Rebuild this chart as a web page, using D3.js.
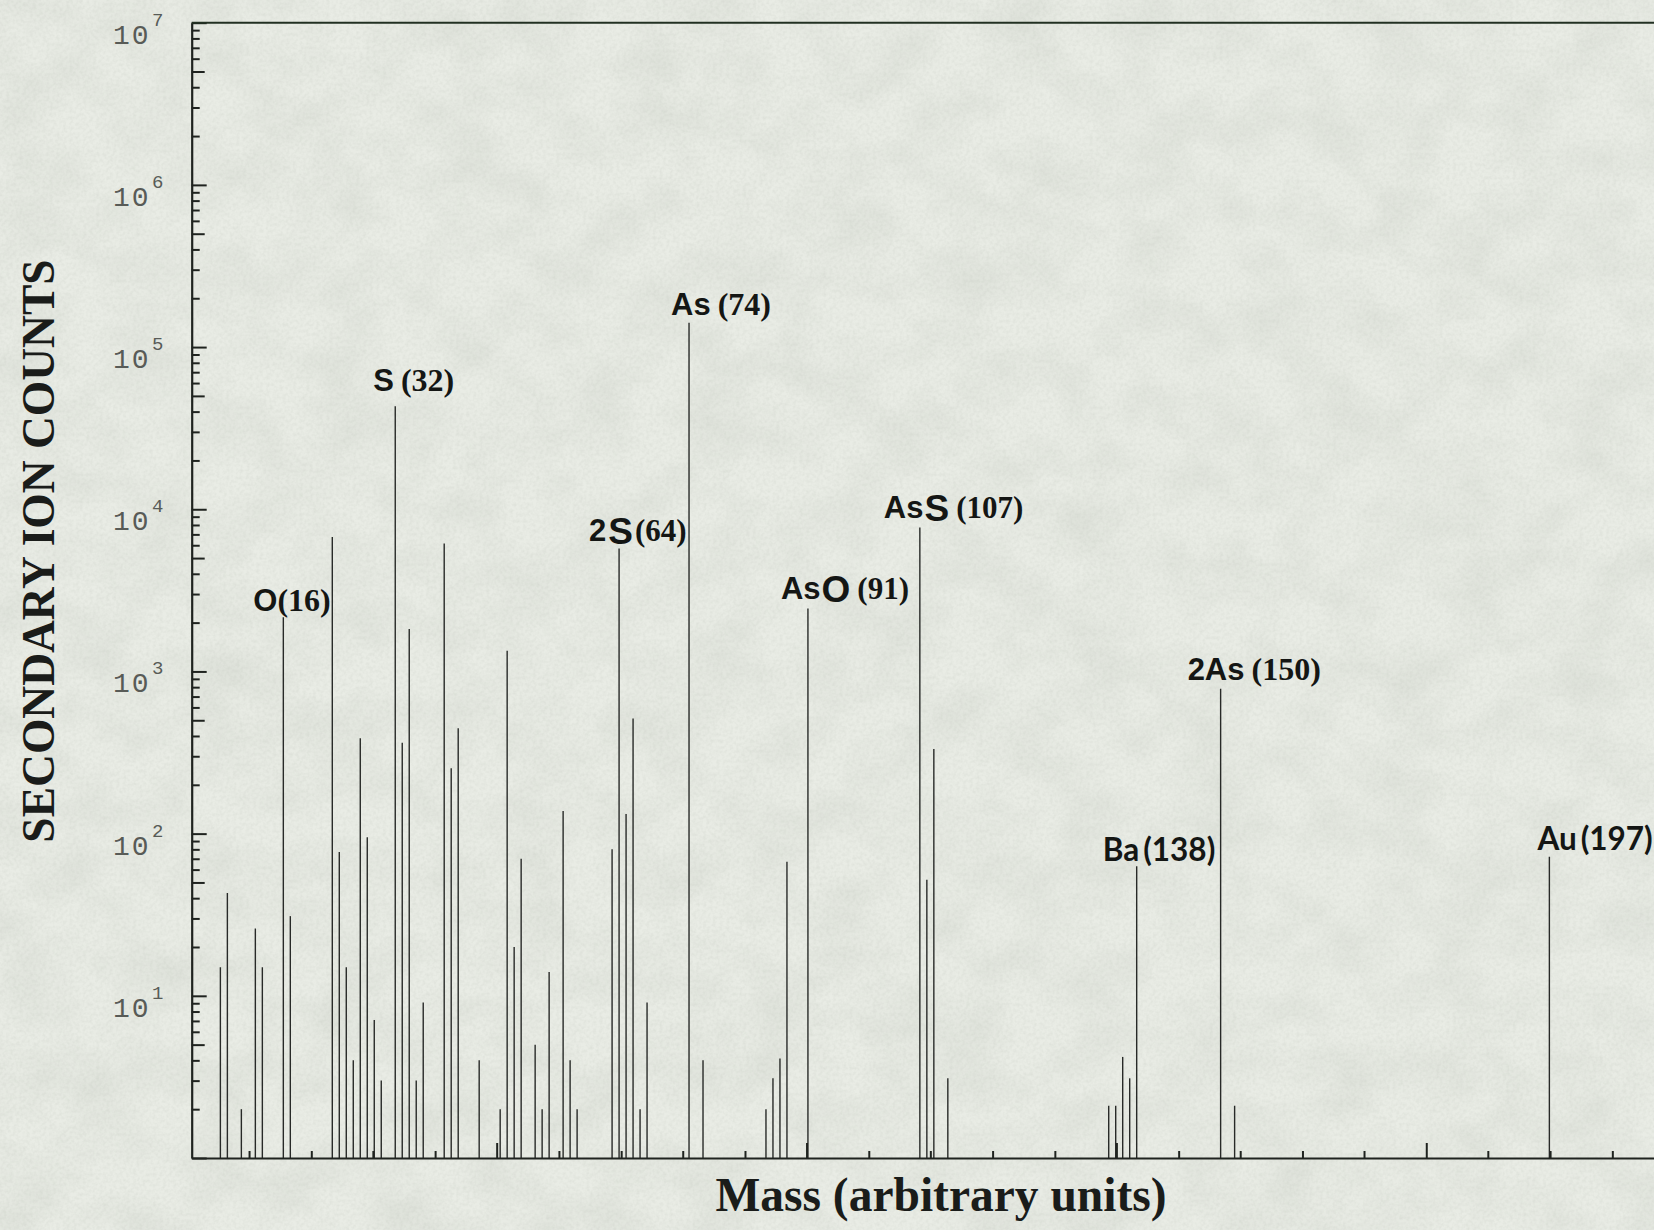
<!DOCTYPE html>
<html>
<head>
<meta charset="utf-8">
<script src="https://cdn.jsdelivr.net/npm/d3@7"></script>
<style>
  html, body { margin: 0; padding: 0; background: #e2e6dd; }
  svg { display: block; }
</style>
</head>
<body>
<svg id="chart" width="1654" height="1230"></svg>
<script>
// Secondary ion mass spectrum: nominal mass vs. counts (log scale)
const masses = [7, 8, 10, 12, 13, 16, 17, 23, 24, 25, 26, 27, 28, 29, 30, 32, 33, 34, 35, 36,
                39, 40, 41, 44, 47, 48, 49, 50, 52, 53, 54, 56, 57, 58, 63, 64, 65, 66, 67, 68,
                74, 76, 85, 86, 87, 88, 91, 107, 108, 109, 111, 134, 135, 136, 137, 138, 150, 152, 197];
const counts = [15, 43, 2.0, 26, 15, 2160, 31, 6740, 77, 15, 4.0, 387, 95, 7.1, 3.0, 43200, 364, 1830, 3.0, 9.1,
                6160, 253, 446, 4.0, 2.0, 1340, 20, 70, 5.0, 2.0, 14, 138, 4.0, 2.0, 80, 5720, 132, 513, 2.0, 9.1,
                141000, 4.0, 2.0, 3.1, 4.1, 67, 2440, 7710, 52, 333, 3.1, 2.1, 2.1, 4.2, 3.1, 63, 781, 2.1, 72];

// Identified species
const labelSpecies = ["O", "S", "2S", "As", "AsO", "AsS", "Ba", "2As", "Au"];
const labelMasses  = [16, 32, 64, 74, 91, 107, 138, 150, 197];

// Axis ticks
const yDecades = [1, 2, 3, 4, 5, 6, 7];            // labelled powers of ten
const xMinorTicks = [11.1, 20.0, 28.8, 37.7, 55.4, 64.3, 73.1, 82.0, 99.7, 108.5, 117.4, 126.3,
                     144.0, 152.8, 161.7, 170.5, 188.2, 197.1, 206.0];
const xMajorTicks = [46.5, 90.8, 135.1, 179.4];

(function draw() {
  const W = 1654, H = 1230;
  const plotLeft = 191.7, plotRight = 1654.3, plotTop = 22.7, plotBottom = 1158;
  const x = d3.scaleLinear().domain([2.9, 212]).range([plotLeft, plotRight]);
  const y = d3.scaleLog().domain([1, 1e7]).range([plotBottom, plotTop]);

  const svg = d3.select("#chart");

  // paper texture
  const defs = svg.append("defs");
  const f1 = defs.append("filter").attr("id", "mottle").attr("x", 0).attr("y", 0).attr("width", 1).attr("height", 1);
  f1.append("feTurbulence").attr("type", "fractalNoise").attr("baseFrequency", "0.016 0.02")
    .attr("numOctaves", 4).attr("seed", 7);
  f1.append("feColorMatrix").attr("type", "matrix")
    .attr("values", "0 0 0 0 0.40  0 0 0 0 0.44  0 0 0 0 0.38  0.32 0 0 0 -0.11");
  const f2 = defs.append("filter").attr("id", "grain").attr("x", 0).attr("y", 0).attr("width", 1).attr("height", 1);
  f2.append("feTurbulence").attr("type", "fractalNoise").attr("baseFrequency", "0.3")
    .attr("numOctaves", 2).attr("seed", 2);
  f2.append("feColorMatrix").attr("type", "matrix")
    .attr("values", "0 0 0 0 0.35  0 0 0 0 0.38  0 0 0 0 0.33  0.25 0 0 0 -0.09");

  svg.append("rect").attr("width", W).attr("height", H).attr("fill", "#e9ece5");
  svg.append("rect").attr("width", W).attr("height", H).attr("filter", "url(#mottle)");
  svg.append("rect").attr("width", W).attr("height", H).attr("filter", "url(#grain)");

  const ink = "#1f231f";

  // peaks
  const peaks = masses.map((m, i) => ({ mass: m, count: counts[i] }));
  svg.append("g").attr("class", "peaks")
    .selectAll("line").data(peaks).join("line")
    .attr("x1", d => x(d.mass)).attr("x2", d => x(d.mass))
    .attr("y1", y(1)).attr("y2", d => y(d.count))
    .attr("stroke", "#282a28").attr("stroke-width", 1.4);

  // y axis: decade ticks, 5x ticks and the other minor ticks
  const yMinorVals = [], yMidVals = [];
  for (let e = 0; e < 7; e++) {
    for (let k = 2; k <= 9; k++) (k === 5 ? yMidVals : yMinorVals).push(k * Math.pow(10, e));
  }
  const yMajorVals = d3.range(0, 8).map(e => Math.pow(10, e));

  function styleAxis(g, w) {
    g.selectAll("path.domain").attr("stroke", ink).attr("stroke-width", w);
    g.selectAll(".tick line").attr("stroke", ink).attr("stroke-width", 2);
    g.selectAll(".tick text").remove();
  }
  svg.append("g").attr("transform", `translate(${plotLeft},0)`)
    .call(d3.axisLeft(y).tickValues(yMajorVals).tickSize(-15).tickSizeOuter(0).tickFormat(""))
    .call(g => styleAxis(g, 2.2));
  svg.append("g").attr("transform", `translate(${plotLeft},0)`)
    .call(d3.axisLeft(y).tickValues(yMidVals).tickSize(-13).tickSizeOuter(0).tickFormat(""))
    .call(g => { g.select("path.domain").remove(); styleAxis(g, 0); });
  svg.append("g").attr("transform", `translate(${plotLeft},0)`)
    .call(d3.axisLeft(y).tickValues(yMinorVals).tickSize(-8).tickSizeOuter(0).tickFormat(""))
    .call(g => { g.select("path.domain").remove(); styleAxis(g, 0); });

  // y tick labels 10^n
  const yLab = svg.append("g").attr("class", "ylabels")
    .attr("font-family", "'Liberation Mono', 'DejaVu Sans Mono', monospace")
    .attr("fill", "#585b57");
  yDecades.forEach(e => {
    const yy = y(Math.pow(10, e));
    yLab.append("text").attr("x", 113).attr("y", yy + 21).attr("font-size", 28)
      .attr("letter-spacing", 2).text("10");
    yLab.append("text").attr("x", 152).attr("y", yy + 3).attr("font-size", 19).text(e);
  });

  // x axis
  svg.append("g").attr("transform", `translate(0,${plotBottom})`)
    .call(d3.axisBottom(x).tickValues(xMinorTicks).tickSize(-7).tickSizeOuter(0).tickFormat(""))
    .call(g => styleAxis(g, 2.2));
  svg.append("g").attr("transform", `translate(0,${plotBottom})`)
    .call(d3.axisBottom(x).tickValues(xMajorTicks).tickSize(-15).tickSizeOuter(0).tickFormat(""))
    .call(g => { g.select("path.domain").remove(); styleAxis(g, 0); });

  // top frame line
  svg.append("line").attr("x1", plotLeft).attr("x2", plotRight).attr("y1", y(1e7)).attr("y2", y(1e7))
    .attr("stroke", "#223022").attr("stroke-width", 2);

  // axis titles
  svg.append("text")
    .attr("transform", "translate(54,551) rotate(-90)")
    .attr("text-anchor", "middle")
    .attr("font-family", "'Liberation Serif', 'Times New Roman', serif")
    .attr("font-weight", "bold").attr("font-size", 45.5).attr("fill", "#1a1c1a")
    .text("SECONDARY ION COUNTS");
  svg.append("text")
    .attr("x", 941).attr("y", 1211)
    .attr("text-anchor", "middle")
    .attr("font-family", "'Liberation Serif', 'Times New Roman', serif")
    .attr("font-weight", "bold").attr("font-size", 47.5).attr("fill", "#1a1c1a")
    .text("Mass (arbitrary units)");

  // species labels: left offset from the peak, gap above its top, and type style
  const labelDx   = [-30, -22, -30, -18, -27, -36, -34, -33, -12];
  const labelGap  = [6, 15, 8, 8, 10, 10, 5, 9, 7];
  const labelFace = ["mix", "mix", "mix", "mix", "mix", "mix", "cal", "mix", "cal"];
  const bigLetter = { "2S": "S", "AsO": "O", "AsS": "S" };
  const labelSpace = { "O": 0, "2S": 2 };

  const sans = "'Liberation Sans', Arial, sans-serif";
  const serif = "'Liberation Serif', 'Times New Roman', serif";
  const cal = "Lato, 'Open Sans', sans-serif";

  const labG = svg.append("g").attr("class", "species").attr("fill", "#141614");
  labelSpecies.forEach((sp, i) => {
    const m = labelMasses[i];
    const c = counts[masses.indexOf(m)];
    const t = labG.append("text")
      .attr("x", x(m) + labelDx[i])
      .attr("y", y(c) - labelGap[i]);
    const gapPx = labelSpace[sp] !== undefined ? labelSpace[sp] : 7;
    if (labelFace[i] === "cal") {
      t.attr("font-family", cal).attr("font-weight", 700).attr("font-size", 31.5);
      t.append("tspan").text(sp);
      t.append("tspan").attr("dx", 4).text(`(${m})`);
    } else {
      t.attr("font-family", sans).attr("font-weight", "bold").attr("font-size", 31);
      const big = bigLetter[sp];
      if (big) {
        const head = sp.slice(0, sp.length - 1);
        t.append("tspan").text(head);
        t.append("tspan").attr("dx", sp === "2S" ? 2 : 1).attr("font-size", 37).attr("dy", 3).text(big);
        t.append("tspan").attr("dy", -3).attr("dx", gapPx).attr("font-family", serif).text(`(${m})`);
      } else {
        t.append("tspan").text(sp);
        t.append("tspan").attr("dx", gapPx).attr("font-family", serif).attr("font-size", 32).text(`(${m})`);
      }
    }
  });
})();
</script>
</body>
</html>
